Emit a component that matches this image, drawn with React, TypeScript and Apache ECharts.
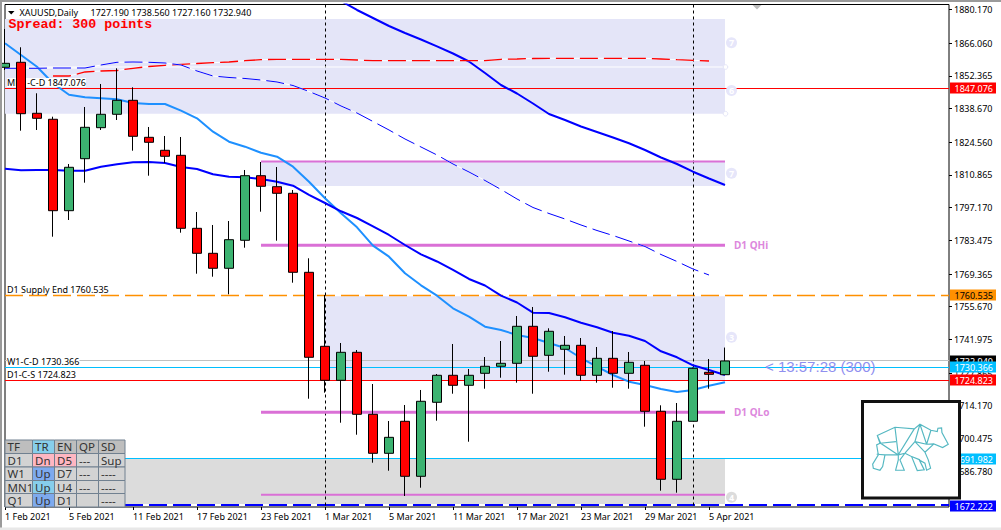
import React, { useEffect, useRef } from "react";
import * as echarts from "echarts";

const dates = [
  "1 Feb 2021","2 Feb 2021","3 Feb 2021","4 Feb 2021","5 Feb 2021","8 Feb 2021","9 Feb 2021","10 Feb 2021","11 Feb 2021","12 Feb 2021",
  "15 Feb 2021","16 Feb 2021","17 Feb 2021","18 Feb 2021","19 Feb 2021","22 Feb 2021","23 Feb 2021","24 Feb 2021","25 Feb 2021","26 Feb 2021",
  "1 Mar 2021","2 Mar 2021","3 Mar 2021","4 Mar 2021","5 Mar 2021","8 Mar 2021","9 Mar 2021","10 Mar 2021","11 Mar 2021","12 Mar 2021",
  "15 Mar 2021","16 Mar 2021","17 Mar 2021","18 Mar 2021","19 Mar 2021","22 Mar 2021","23 Mar 2021","24 Mar 2021","25 Mar 2021","26 Mar 2021",
  "29 Mar 2021","30 Mar 2021","31 Mar 2021","1 Apr 2021","5 Apr 2021","6 Apr 2021",
];
const futureSlots = Array.from({ length: 14 }, () => "");
const categories = [...dates, ...futureSlots];

// [open, close, low, high]
const ohlc = [
  [1855.96,1857.63,1854.83,1872.0],[1858.05,1836.52,1829.4,1864.34],[1836.69,1834.59,1829.69,1845.07],[1834.18,1795.89,1785.0,1835.26],
  [1795.89,1814.07,1791.99,1815.45],[1817.67,1830.82,1807.62,1839.33],[1830.66,1836.27,1829.69,1848.96],[1836.27,1842.13,1833.88,1855.54],
  [1842.13,1827.05,1821.02,1847.58],[1826.63,1824.54,1810.55,1830.95],[1821.19,1818.68,1815.87,1827.18],[1819.09,1788.51,1786.67,1826.76],
  [1788.51,1778.04,1769.5,1795.34],[1778.04,1771.76,1768.24,1789.9],[1771.76,1783.74,1760.87,1791.57],[1783.49,1810.55,1780.39,1812.94],
  [1810.55,1806.11,1795.47,1816.29],[1805.94,1803.18,1783.32,1814.19],[1803.18,1770.08,1765.73,1804.56],[1770.08,1734.48,1717.13,1775.95],
  [1739.08,1724.84,1719.65,1760.57],[1724.84,1736.57,1707.08,1740.47],[1736.57,1710.6,1702.05,1737.53],[1710.6,1694.26,1690.32,1723.29],
  [1694.26,1700.96,1686.97,1707.79],[1707.67,1684.63,1676.38,1714.5],[1684.63,1716.05,1679.85,1720.78],[1715.63,1726.94,1707.92,1727.48],
  [1726.94,1722.75,1719.23,1740.05],[1722.75,1726.94,1699.12,1729.58],[1727.77,1730.71,1721.32,1734.6],[1730.71,1731.96,1725.93,1741.3],
  [1731.96,1747.46,1723.84,1751.78],[1747.46,1734.9,1719.23,1755.55],[1735.31,1745.37,1728.44,1746.63],[1737.83,1739.5,1727.19,1743.4],
  [1739.5,1726.94,1724.67,1742.56],[1726.94,1734.05,1723.84,1738.79],[1734.05,1727.77,1721.74,1745.49],[1727.77,1732.38,1721.32,1736.7],
  [1731.13,1711.86,1705.41,1732.93],[1711.86,1683.37,1678.6,1714.37],[1683.37,1707.67,1677.76,1715.33],[1707.67,1729.87,1707.67,1730.2],
  [1728.19,1727.35,1721.32,1733.76],[1727.19,1732.94,1727.16,1738.56],
];

const maMid = [1813.48,1812.81,1812.94,1812.94,1812.64,1812.64,1814.32,1815.32,1816.16,1816.29,1815.87,1814.19,1813.36,1811.14,1810.13,1809.88,1809.17,1808.04,1806.36,1802.55,1799.11,1795.64,1792.83,1789.35,1785.71,1781.52,1777.62,1774.61,1771.05,1767.28,1764.55,1760.28,1757.43,1753.16,1753.03,1751.23,1748.97,1747.04,1744.78,1743.52,1741.31,1736.99,1734.48,1731.13,1729.16,1727.06];
const maFast = [1866.01,1861.11,1856.21,1849.26,1844.48,1843.39,1842.97,1842.55,1841.0,1840.58,1840.58,1837.78,1834.59,1828.98,1824.79,1822.7,1820.18,1818.51,1814.32,1808.04,1801.08,1794.8,1788.93,1781.23,1776.62,1769.66,1764.64,1760.28,1755.0,1751.48,1747.3,1745.91,1743.82,1742.56,1740.47,1738.37,1734.18,1730.54,1727.06,1724.26,1722.87,1721.2,1719.94,1720.78,1722.58,1724.0];
const maSlow = [null,null,null,null,null,null,null,null,null,null,null,null,null,null,null,null,null,null,null,null,null,1883.73,1879.96,1876.61,1873.26,1870.33,1867.6,1864.75,1861.74,1858.39,1853.57,1848.54,1844.98,1840.79,1836.4,1833.88,1831.16,1828.86,1826.55,1824.12,1821.31,1818.17,1815.45,1812.22,1809.38,1806.65];
const weeklyDash = [1855.54,1855.54,1855.54,1855.66,1855.66,1855.66,1856.92,1858.05,1858.18,1858.05,1857.76,1856.92,1854.41,1852.31,1851.69,1851.27,1850.64,1849.8,1848.33,1845.82,1843.1,1839.75,1836.81,1833.25,1829.69,1825.92,1822.57,1819.22,1815.45,1812.1,1808.54,1804.77,1800.79,1797.23,1794.71,1792.41,1789.9,1787.59,1785.5,1783.2,1780.89,1777.54,1774.61,1771.46,1768.95];
const monthlyDash = [null,null,null,1852.31,1852.31,1853.99,1854.41,1854.62,1855.54,1856.29,1856.8,1857.21,1857.55,1857.88,1858.18,1858.72,1859.14,1859.31,1859.31,1859.31,1859.31,1859.31,1859.02,1858.72,1858.72,1858.72,1858.72,1858.72,1858.72,1858.72,1858.72,1859.31,1859.43,1859.64,1859.73,1859.73,1859.73,1859.73,1859.73,1859.73,1859.73,1859.43,1859.14,1858.89,1858.6];

const yTicks = [1880.17,1866.06,1852.365,1838.67,1824.56,1810.865,1797.17,1783.475,1769.365,1755.67,1741.975,1727.865,1714.17,1700.475,1686.78];

// [from category index, to category index, upper price, lower price, fill]
const zones: [number, number, number, number, string][] = [
  [0, 45, 1876.19, 1836.52, "#E4E5F8"],
  [16, 45, 1816.29, 1806.23, "#E4E5F8"],
  [20, 45, 1760.1, 1724.823, "#E4E5F8"],
  [0, 45, 1691.982, 1672.222, "#DCDCDC"],
];
// [from index, to index, price, width, colour]
const segments: [number, number, number, number, string][] = [
  [0, 45, 1856.08, 1, "#FFFFFF"],
  [16, 45, 1816.5, 2, "#DA70D6"],
  [16, 45, 1781.45, 3, "#DA70D6"],
  [16, 45, 1711.5, 3, "#DA70D6"],
  [16, 45, 1676.9, 2, "#DA70D6"],
];
const levels = [
  { price: 1847.076, color: "#FF0000", text: "#FFFFFF", width: 1, dash: false, base: false },
  { price: 1760.535, color: "#FF9000", text: "#000000", width: 1.4, dash: true, base: false },
  { price: 1732.94, color: "#C0C0C0", text: "#FFFFFF", width: 1, dash: false, base: false, tag: "#000000" },
  { price: 1724.823, color: "#FF0000", text: "#FFFFFF", width: 1, dash: false, base: false },
  { price: 1730.366, color: "#00BFFF", text: "#FFFFFF", width: 1, dash: false, base: false },
  { price: 1691.982, color: "#00BFFF", text: "#FFFFFF", width: 1, dash: false, base: false },
  { price: 1672.222, color: "#0000FF", text: "#FFFFFF", width: 2, dash: true, base: true },
];
const levelLabels: [string, number][] = [
  ["MN1-C-D 1847.076", 1847.076],
  ["D1 Supply End 1760.535", 1760.535],
  ["W1-C-D 1730.366", 1730.366],
  ["D1-C-S 1724.823", 1724.823],
];
const badges: [string, number, string][] = [
  ["7", 1866.2, "#E6E6FA"],
  ["6", 1846.2, "#E6E6FA"],
  ["7", 1811.6, "#E6E6FA"],
  ["3", 1742.9, "#E6E6FA"],
  ["4", 1675.9, "#DCDCDC"],
];
const rings = [1856.08, 1836.52];
const separators = [20, 43];

const tableHead = ["TF", "TR", "EN", "QP", "SD"];
const tableRows = [
  ["D1", "Dn", "D5", "---", "Sup"],
  ["W1", "Up", "D7", "---", "----"],
  ["MN1", "Up", "U4", "---", "----"],
  ["Q1", "Up", "D1", "", "----"],
];
const trColors = ["#87CEEB", "#FFB6C1", "#7EAAEE", "#87CEEB", "#7EAAEE"];
const enColors = ["#BEBEBE", "#FFB6C1", "#D3D3D3", "#D3D3D3", "#D3D3D3"];

const FAMILY = '"Noto Sans", sans-serif';
const AXSIZE = 9;
const AX = `${AXSIZE}px ${FAMILY}`;

const bearPath =
  "M52 272L105 247L163 252L180 238L213 256L232 260L234 250L245 249L246 263L265 298L248 308L222 297L195 322L205 345L212 370L200 376L195 355L178 345L193 375L172 377L155 335L135 325L120 345L133 376L107 376L115 345L115 330L75 330L68 365L60 376L40 370L38 358L55 330L50 300L60 295Z" +
  "M52 272L62 295L115 330M105 247L115 330L163 252M60 295L108 290M180 238L165 290L195 322M165 290L135 325M180 238L200 298L222 297M213 256L200 298M165 290L200 298M50 328L75 330M155 335L180 345M115 330L135 325";

export default function App() {
  const ref = useRef<HTMLDivElement>(null);
  useEffect(() => {
    document.body.style.margin = "0";
    document.body.style.background = "#fff";
    echarts.graphic.registerShape("bear", echarts.graphic.extendPath(bearPath, {}));
    const chart = echarts.init(ref.current!, undefined, { renderer: "svg" });

    const lineSeries = (name: string, data: any[], color: string, width: number, z: number, dash?: number[]) => ({
      name,
      type: "line",
      data,
      showSymbol: false,
      symbol: "none",
      connectNulls: false,
      z,
      silent: true,
      lineStyle: { color, width, type: dash || "solid", cap: "butt" },
    });

    const tableGraphics: any[] = [];
    const colX = [5, 32.5, 54.5, 76.5, 98.5, 125];
    const rowY = [440, 453.5, 467, 480.5, 493.5, 507];
    [tableHead, ...tableRows].forEach((row, r) => {
      row.forEach((txt, c) => {
        let fill = r === 0 ? "#BEBEBE" : "#D3D3D3";
        if (c === 1) fill = trColors[r];
        if (c === 2) fill = enColors[r];
        tableGraphics.push({
          type: "rect",
          z: 50,
          shape: { x: colX[c], y: rowY[r], width: colX[c + 1] - colX[c], height: rowY[r + 1] - rowY[r] },
          style: { fill, stroke: "#708090", lineWidth: 1 },
        });
        tableGraphics.push({
          type: "text",
          z: 51,
          x: colX[c] + 2.5,
          y: (rowY[r] + rowY[r + 1]) / 2,
          style: { text: txt, fill: "#333333", font: `11.5px ${FAMILY}`, align: "left", verticalAlign: "middle" },
        });
      });
    });

    chart.setOption({
      animation: false,
      backgroundColor: "#FFFFFF",
      grid: {
        show: true,
        left: 5,
        top: 4.5,
        width: 944,
        height: 502.5,
        borderColor: "#000000",
        borderWidth: 1,
        backgroundColor: "#FFFFFF",
        containLabel: false,
        outerBoundsMode: "none",
      },
      xAxis: {
        type: "category",
        data: categories,
        boundaryGap: false,
        axisLine: { show: false },
        axisTick: {
          show: true,
          length: 3,
          lineStyle: { color: "#000" },
          interval: (i: number) => i % 4 === 0 && i <= 44,
        },
        axisLabel: {
          interval: (i: number) => i % 4 === 0 && i <= 44,
          align: "left",
          margin: 5,
          color: "#000",
          fontSize: AXSIZE,
          fontFamily: FAMILY,
          hideOverlap: false,
        },
        splitLine: { show: false },
      },
      yAxis: {
        type: "value",
        position: "right",
        min: 1671.77,
        max: 1882.26,
        splitLine: { show: false },
        axisLine: { show: false },
        axisTick: { show: true, length: 3, lineStyle: { color: "#000" }, customValues: yTicks },
        axisLabel: {
          color: "#000",
          margin: 5,
          fontSize: AXSIZE,
          fontFamily: FAMILY,
          customValues: yTicks,
          formatter: (v: number) => v.toFixed(3),
          showMinLabel: true,
          showMaxLabel: true,
        },
      },
      series: [
        {
          type: "custom",
          name: "zones",
          z: 1,
          silent: true,
          data: zones.map((z) => [z[0], z[2]]),
          renderItem: (p: any, api: any) => {
            const z = zones[p.dataIndex];
            const a = api.coord([z[0], z[2]]);
            const b = api.coord([z[1], z[3]]);
            return { type: "rect", shape: { x: a[0], y: a[1], width: b[0] - a[0], height: b[1] - a[1] }, style: { fill: z[4] } };
          },
        },
        {
          type: "custom",
          name: "levels",
          z: 2,
          silent: true,
          data: levels.map((l) => [0, l.price]),
          renderItem: (p: any, api: any) => {
            const l = levels[p.dataIndex];
            const a = api.coord([0, l.price]);
            const b = api.coord([59, l.price]);
            const y = Math.round(a[1] - 0.5) + 0.5 + (l.width === 2 ? -0.5 : 0);
            const mk = (stroke: string, dash?: number[]) => ({
              type: "line",
              shape: { x1: a[0], y1: y, x2: b[0], y2: y },
              style: { stroke, lineWidth: l.width, lineDash: dash },
            });
            const children: any[] = [];
            if (l.base) children.push(mk("#FFFFFF"));
            children.push(l.dash ? mk(l.color, [18, 6]) : mk(l.color));
            return { type: "group", children };
          },
        },
        {
          type: "custom",
          name: "separators",
          z: 2,
          silent: true,
          data: separators.map((i) => [i, 1700]),
          renderItem: (p: any, api: any) => {
            const i = separators[p.dataIndex];
            const a = api.coord([i, 1882.26]);
            const b = api.coord([i, 1671.77]);
            const x = Math.round(a[0] - 0.5) + 0.5;
            return { type: "line", shape: { x1: x, y1: a[1], x2: x, y2: b[1] }, style: { stroke: "#000", lineWidth: 1, lineDash: [3, 3] } };
          },
        },
        {
          type: "custom",
          name: "segments",
          z: 2,
          silent: true,
          data: segments.map((s) => [s[0], s[2]]),
          renderItem: (p: any, api: any) => {
            const s = segments[p.dataIndex];
            const a = api.coord([s[0], s[2]]);
            const b = api.coord([s[1], s[2]]);
            return { type: "line", shape: { x1: a[0], y1: a[1], x2: b[0], y2: a[1] }, style: { stroke: s[4], lineWidth: s[3] } };
          },
        },
        lineSeries("maFast", maFast, "#1E90FF", 2, 3),
        lineSeries("maMid", maMid, "#0000FF", 2, 3),
        lineSeries("maSlow", maSlow, "#0000FF", 2, 3),
        lineSeries("monthlyBase", monthlyDash, "#FFFFFF", 1, 3),
        lineSeries("monthlyDash", monthlyDash, "#FF0000", 1.3, 3, [18, 6]),
        lineSeries("weeklyBase", weeklyDash, "#FFFFFF", 1, 3),
        lineSeries("weeklyDash", weeklyDash, "#0000FF", 1, 3, [18, 6]),
        {
          type: "custom",
          name: "levelLabels",
          z: 4,
          silent: true,
          data: levelLabels.map((l) => [0, l[1]]),
          renderItem: (p: any, api: any) => {
            const l = levelLabels[p.dataIndex];
            const a = api.coord([0, l[1]]);
            return {
              type: "text",
              x: a[0] + 2,
              y: a[1] - 6,
              style: { text: l[0], fill: "#000", font: AX, align: "left", verticalAlign: "middle", backgroundColor: "#FFFFFF" },
            };
          },
        },
        {
          type: "candlestick",
          name: "XAUUSD",
          data: ohlc,
          z: 5,
          barWidth: 10,
          silent: true,
          itemStyle: {
            color: "#3CB371",
            color0: "#FF0000",
            borderColor: "#000000",
            borderColor0: "#000000",
            borderWidth: 1,
          },
        },
        {
          type: "custom",
          name: "badges",
          z: 6,
          silent: true,
          data: badges.map((b) => [45, b[1]]),
          renderItem: (p: any, api: any) => {
            const b = badges[p.dataIndex];
            const a = api.coord([45, b[1]]);
            return {
              type: "group",
              children: [
                { type: "circle", shape: { cx: a[0] + 6.5, cy: a[1], r: 5.5 }, style: { fill: b[2] } },
                { type: "text", x: a[0] + 6.5, y: a[1], style: { text: b[0], fill: "#FFFFFF", font: `bold 9px ${FAMILY}`, align: "center", verticalAlign: "middle" } },
              ],
            };
          },
        },
        {
          type: "custom",
          name: "rings",
          z: 6,
          silent: true,
          data: rings.map((r) => [45, r]),
          renderItem: (p: any, api: any) => {
            const a = api.coord([45, rings[p.dataIndex]]);
            return { type: "circle", shape: { cx: a[0] + 0.5, cy: a[1], r: 2.3 }, style: { fill: "#FFFFFF", stroke: "#E4E5F8", lineWidth: 1 } };
          },
        },
        {
          type: "custom",
          name: "zoneNames",
          z: 6,
          silent: true,
          data: [[45, 1781.6], [45, 1711.5]],
          renderItem: (p: any, api: any) => {
            const price = p.dataIndex === 0 ? 1781.6 : 1711.5;
            const a = api.coord([45, price]);
            return {
              type: "text",
              x: a[0] + 9,
              y: a[1],
              style: { text: p.dataIndex === 0 ? "D1 QHi" : "D1 QLo", fill: "#DD88DD", font: `bold 10px ${FAMILY}`, align: "left", verticalAlign: "middle" },
            };
          },
        },
        {
          type: "custom",
          name: "tags",
          z: 8,
          silent: true,
          data: levels.map((l) => [59, l.price]),
          renderItem: (p: any, api: any) => {
            const l: any = levels[p.dataIndex];
            const a = api.coord([59, l.price]);
            const y = Math.round(a[1]);
            return {
              type: "group",
              children: [
                { type: "rect", shape: { x: a[0] + 1, y: y - 5.5, width: 46, height: 11 }, style: { fill: l.tag || l.color } },
                { type: "text", x: a[0] + 5.5, y, style: { text: l.price.toFixed(3), fill: l.text, font: AX, align: "left", verticalAlign: "middle" } },
              ],
            };
          },
        },
      ],
      graphic: [
        { type: "rect", z: 60, shape: { x: 0, y: 0, width: 1001, height: 2 }, style: { fill: "#9A9A9A" } },
        { type: "rect", z: 60, shape: { x: 0, y: 0, width: 2, height: 530 }, style: { fill: "#9A9A9A" } },
        { type: "rect", z: 60, shape: { x: 0, y: 527.5, width: 1001, height: 2.5 }, style: { fill: "#E8E8E8" } },
        { type: "polygon", z: 40, shape: { points: [[8, 11], [14.5, 11], [11.2, 14.5]] }, style: { fill: "#000" } },
        { type: "polygon", z: 40, shape: { points: [[752.5, 5], [761.5, 5], [757, 9.5]] }, style: { fill: "#BDBDBD" } },
        { type: "text", z: 40, x: 19.5, y: 12.5, style: { text: "XAUUSD,Daily", fill: "#000", font: AX, align: "left", verticalAlign: "middle" } },
        { type: "text", z: 40, x: 90.5, y: 12.5, style: { text: "1727.190 1738.560 1727.160 1732.940", fill: "#000", font: AX, align: "left", verticalAlign: "middle" } },
        { type: "text", z: 40, x: 8.5, y: 24.7, style: { text: "Spread: 300 points", fill: "#FF0000", font: 'bold 13.3px "Liberation Mono", monospace', align: "left", verticalAlign: "middle" } },
        { type: "text", z: 40, x: 765, y: 366, style: { text: "< 13:57:28 (300)", fill: "#8F8FEF", font: `15px "Liberation Sans", sans-serif`, align: "left", verticalAlign: "middle" } },
        ...tableGraphics,
        { type: "rect", z: 70, shape: { x: 862.5, y: 401.5, width: 97, height: 96.5 }, style: { fill: "#FFFFFF", stroke: "#111111", lineWidth: 3 } },
        { type: "bear", z: 71, x: 860, y: 345, scaleX: 1 / 3, scaleY: 1 / 3, style: { fill: "none", stroke: "#55B8C2", lineWidth: 3.5 } },
      ],
    });
    return () => chart.dispose();
  }, []);
  return <div ref={ref} style={{ width: 1001, height: 530 }} />;
}
